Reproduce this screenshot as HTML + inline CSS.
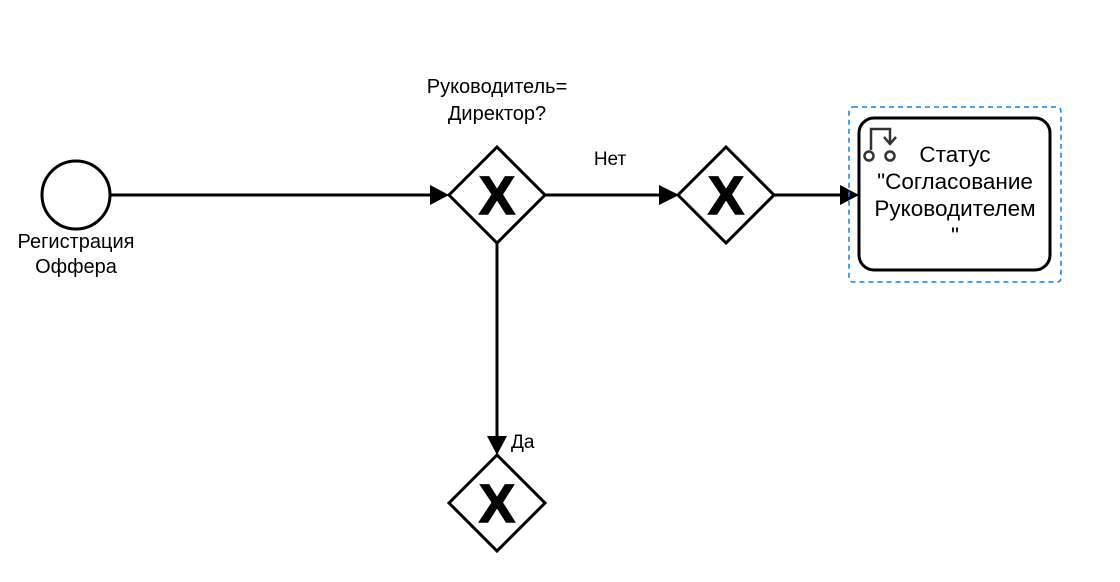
<!DOCTYPE html>
<html><head><meta charset="utf-8"><style>
html,body{margin:0;padding:0;background:#fff;}
svg{display:block;}
text{font-family:"Liberation Sans","DejaVu Sans",sans-serif;fill:#000;}
</style></head><body>
<svg width="1120" height="582" viewBox="0 0 1120 582" xmlns="http://www.w3.org/2000/svg">
<rect width="1120" height="582" fill="#fff"/>
<circle cx="76" cy="195" r="34" fill="#fff" stroke="#000" stroke-width="3"/>
<text x="76" y="248" font-size="20" text-anchor="middle">Регистрация</text>
<text x="76" y="273" font-size="20" text-anchor="middle">Оффера</text>
<line x1="110" y1="195" x2="432" y2="195" stroke="#000" stroke-width="3"/>
<polygon points="430,185 449,195 430,205" fill="#000"/>
<line x1="545" y1="195" x2="660" y2="195" stroke="#000" stroke-width="3"/>
<polygon points="659,185 679,195 659,205" fill="#000"/>
<line x1="774" y1="195" x2="842" y2="195" stroke="#000" stroke-width="3"/>
<polygon points="840,185 859,195 840,205" fill="#000"/>
<line x1="497" y1="243" x2="497" y2="438" stroke="#000" stroke-width="3"/>
<polygon points="487,436 497,455 507,436" fill="#000"/>
<text x="610" y="165" font-size="19" text-anchor="middle">Нет</text>
<text x="511" y="448" font-size="19">Да</text>
<polygon points="497,147 545,195 497,243 449,195" fill="#fff" stroke="#000" stroke-width="3"/>
<text x="497" y="214" font-size="54" font-weight="bold" text-anchor="middle" stroke="#000" stroke-width="1.5">X</text>
<text x="497" y="93" font-size="20" text-anchor="middle">Руководитель=</text>
<text x="497" y="120" font-size="20" text-anchor="middle">Директор?</text>
<polygon points="726,147 774,195 726,243 678,195" fill="#fff" stroke="#000" stroke-width="3"/>
<text x="726" y="214" font-size="54" font-weight="bold" text-anchor="middle" stroke="#000" stroke-width="1.5">X</text>
<polygon points="497,455 545,503 497,551 449,503" fill="#fff" stroke="#000" stroke-width="3"/>
<text x="497" y="522" font-size="54" font-weight="bold" text-anchor="middle" stroke="#000" stroke-width="1.5">X</text>
<rect x="849" y="107" width="212" height="175" rx="4" fill="none" stroke="#0a84e0" stroke-width="1.5" stroke-dasharray="5,4"/>
<rect x="859" y="118" width="191" height="152" rx="15" fill="#fff" stroke="#000" stroke-width="3"/>
<circle cx="869" cy="156" r="4.5" fill="none" stroke="#333" stroke-width="2.5"/>
<circle cx="890" cy="156" r="4.5" fill="none" stroke="#333" stroke-width="2.5"/>
<path d="M871,150 V129 H890 V143" fill="none" stroke="#333" stroke-width="2.5"/>
<path d="M884,137 L890,144 L896,137" fill="none" stroke="#333" stroke-width="2.5"/>
<text x="955" y="162" font-size="22.5" text-anchor="middle">Статус</text>
<text x="955" y="189" font-size="22.5" text-anchor="middle">"Согласование</text>
<text x="955" y="216" font-size="22.5" text-anchor="middle">Руководителем</text>
<text x="955" y="243" font-size="22.5" text-anchor="middle">"</text>
</svg>
</body></html>
